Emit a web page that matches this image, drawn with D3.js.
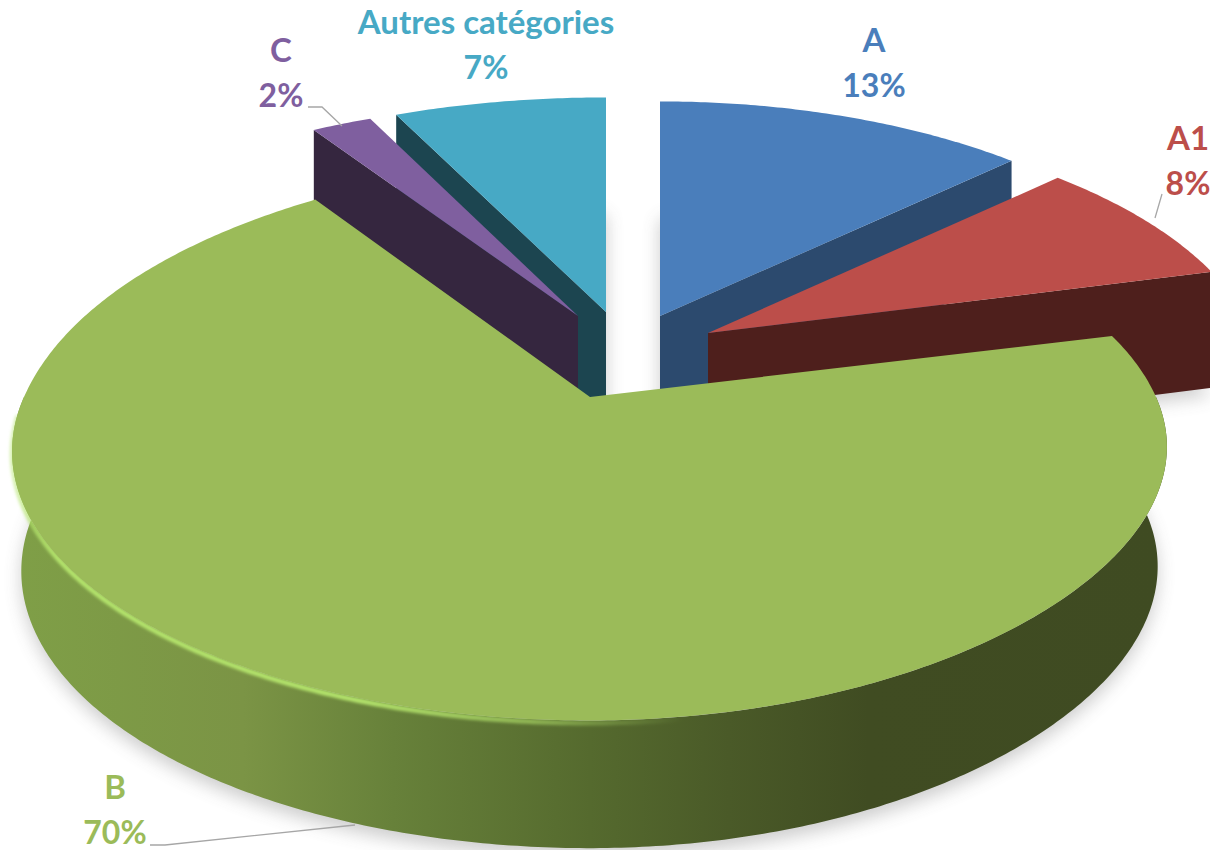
<!DOCTYPE html>
<html>
<head>
<meta charset="utf-8">
<script src="https://cdnjs.cloudflare.com/ajax/libs/d3/7.8.5/d3.min.js"></script>
<style>
html,body{margin:0;padding:0;background:#fff;overflow:hidden}
text{font-family:Lato,"Open Sans",sans-serif;font-weight:700;text-anchor:middle}
</style>
</head>
<body>
<svg id="chart" width="1210" height="850"></svg>
<script>
// ---- data ----
const categories = ["A", "A1", "B", "C", "Autres catégories"];
const values = [13, 8, 70, 2, 7];
const percentLabels = ["13%", "8%", "70%", "2%", "7%"];

// ---- style ----
const topColors = ["#4a7ebb", "#bc4e4a", "#9bbb59", "#7f5f9f", "#47a9c5"];
const wallColors = ["#2c4a6e", "#4e1f1c", "#5d6f30", "#35263f", "#1c4550"];
const apexX = [660, 708, 590, 578, 606];
const apexY = [316, 333, 397, 316, 312];
const xFactor = [0.97, 0.965, 1.0, 1.02, 1.03];
const narrowBy = [0, 0, 0.016, 0, 0];
const wallSide = ["end", "end", null, "start", "start"];
const labelX = [874, 1188, 115, 281, 486];
const labelY = [52, 150, 799, 62, 34];
const lineStep = 44.5;
const leaders = [
  null,
  [[1162, 194], [1155, 218]],
  [[150, 845], [165, 845], [355, 825]],
  [[308, 107], [322, 107], [342, 126]],
  null
];
const rx = 566, ry = 258, persp = 0.2023, depth = 118;

const xUnit = d3.scaleLinear().domain([-1, 1]).range([-rx, rx]);
const yUnit = d3.scaleLinear().domain([-1, 1]).range([ry, -ry]);

const arcs = d3.pie().sort(null).value(d => d)(values);

// the big slice is not a perfect ellipse in the picture: fuller towards the back-left, tighter front-right
function radiusAt(i, angle) {
  if (i !== 2) return 1;
  const sn = Math.sin(angle), cs = Math.cos(angle);
  if (sn < 0 && cs > 0) return 1 + 0.072 * Math.pow((angle - 1.5 * Math.PI) / 1.005, 1.8);
  if (sn > 0 && cs < 0) return 1 - 0.012 * Math.pow(Math.sin(2 * angle), 2);
  return 1;
}
function project(i, angle, z, rf) {
  const r = rf === undefined ? radiusAt(i, angle) : rf;
  const U = Math.sin(angle) * r, V = Math.cos(angle) * r;
  const s = 1 / (1 + persp * V);
  return [
    apexX[i] + xUnit(U) * xFactor[i] * s * (1 - narrowBy[i] * z),
    apexY[i] + yUnit(V) * s + depth * Math.pow(s, 0.35) * z
  ];
}
function sample(a0, a1) {
  const n = Math.max(2, Math.ceil(Math.abs(a1 - a0) / 0.01));
  return d3.range(n + 1).map(k => a0 + (a1 - a0) * k / n);
}
const line = d3.line();
function facePath(i, z) {
  const a = arcs[i];
  return line([project(i, 0, z, 0), ...sample(a.startAngle, a.endAngle).map(t => project(i, t, z))]) + "Z";
}
function radialWall(i, angle) {
  return line([project(i, 0, 0, 0), project(i, angle, 0), project(i, angle, 1), project(i, 0, 1, 0)]) + "Z";
}
function outerWall(i, a0, a1) {
  const ts = sample(a0, a1);
  return line([...ts.map(t => project(i, t, 0)), ...ts.slice().reverse().map(t => project(i, t, 1))]) + "Z";
}

const svg = d3.select("#chart");
const defs = svg.append("defs");
defs.append("filter").attr("id", "shadowBlur")
  .attr("x", "-10%").attr("y", "-10%").attr("width", "120%").attr("height", "120%")
  .append("feGaussianBlur").attr("stdDeviation", 9);
defs.append("filter").attr("id", "rimBlur")
  .attr("filterUnits", "userSpaceOnUse").attr("x", 0).attr("y", 0).attr("width", 1210).attr("height", 850)
  .append("feGaussianBlur").attr("stdDeviation", 1.4);

const wallGrad = defs.append("linearGradient").attr("id", "bWall")
  .attr("gradientUnits", "userSpaceOnUse").attr("x1", 12).attr("x2", 1168).attr("y1", 0).attr("y2", 0);
[[0, "#7f9f47"], [0.2, "#7b9445"], [0.33, "#67813a"], [0.5, "#556a2e"], [0.62, "#4a5a28"], [0.74, "#404c22"], [1, "#3f4b22"]]
  .forEach(([o, c]) => wallGrad.append("stop").attr("offset", o).attr("stop-color", c));

const rimGrad = defs.append("linearGradient").attr("id", "bRim")
  .attr("gradientUnits", "userSpaceOnUse").attr("x1", 12).attr("x2", 1168).attr("y1", 0).attr("y2", 0);
[[0, 0.5], [0.04, 1], [0.3, 1], [0.45, 0.6], [0.58, 0]].forEach(([o, a]) =>
  rimGrad.append("stop").attr("offset", o).attr("stop-color", "#b4e46c").attr("stop-opacity", a));

// soft floor shadow
svg.append("g").attr("filter", "url(#shadowBlur)").attr("opacity", 0.3)
  .selectAll("path").data(arcs).join("path")
  .attr("d", (d, i) => facePath(i, 1.06))
  .attr("fill", "#555");

// draw back slices first, the big slice last
const order = [4, 3, 0, 1, 2];
const slices = svg.append("g");
order.forEach(i => {
  const a = arcs[i];
  const g = slices.append("g").attr("class", "slice");
  if (i === 2) {
    const quarter = Math.PI / 2;
    g.append("path").attr("d", outerWall(i, Math.max(a.startAngle, quarter), Math.min(a.endAngle, 3 * quarter)))
      .attr("fill", "url(#bWall)");
    g.append("path")
      .attr("d", line(sample(0.86 * Math.PI, 1.48 * Math.PI).map(t => project(i, t, 0.02))))
      .attr("fill", "none").attr("stroke", "url(#bRim)").attr("stroke-width", 5).attr("filter", "url(#rimBlur)");
  } else {
    const side = wallSide[i] === "end" ? a.endAngle : a.startAngle;
    g.append("path").attr("d", radialWall(i, side)).attr("fill", wallColors[i]);
  }
  g.append("path").attr("d", facePath(i, 0)).attr("fill", topColors[i]);
});

// leader lines
svg.append("g").selectAll("path").data(leaders.filter(Boolean)).join("path")
  .attr("d", d => line(d)).attr("fill", "none").attr("stroke", "#a6a6a6").attr("stroke-width", 1.3);

// labels
const labels = svg.append("g").selectAll("g").data(categories).join("g");
labels.append("text").attr("x", (d, i) => labelX[i]).attr("y", (d, i) => labelY[i])
  .attr("font-size", 33).attr("fill", (d, i) => topColors[i]).text(d => d);
labels.append("text").attr("x", (d, i) => labelX[i]).attr("y", (d, i) => labelY[i] + lineStep)
  .attr("font-size", 32).attr("fill", (d, i) => topColors[i]).text((d, i) => percentLabels[i]);
</script>
</body>
</html>
